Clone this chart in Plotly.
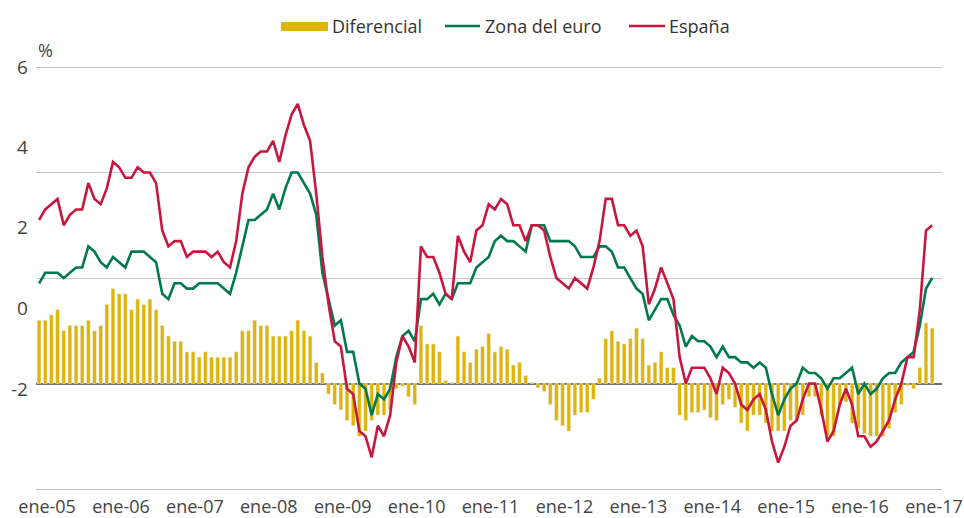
import plotly.graph_objects as go

# IAPC, tasa interanual (%), ene-05 a feb-17
espana = [
    3.1, 3.3, 3.4, 3.5, 3.0, 3.2, 3.3, 3.3, 3.8, 3.5, 3.4, 3.7,
    4.2, 4.1, 3.9, 3.9, 4.1, 4.0, 4.0, 3.8, 2.9, 2.6, 2.7, 2.7,
    2.4, 2.5, 2.5, 2.5, 2.4, 2.5, 2.3, 2.2, 2.7, 3.6, 4.1, 4.3,
    4.4, 4.4, 4.6, 4.2, 4.7, 5.1, 5.3, 4.9, 4.6, 3.6, 2.4, 1.5,
    0.8, 0.7, -0.1, -0.2, -0.9, -1.0, -1.4, -0.8, -1.0, -0.6, 0.4, 0.9,
    0.7, 0.4, 2.6, 2.4, 2.4, 2.1, 1.7, 1.6, 2.8, 2.5, 2.3, 2.9,
    3.0, 3.4, 3.3, 3.5, 3.4, 3.0, 3.0, 2.7, 3.0, 3.0, 2.9, 2.4,
    2.0, 1.9, 1.8, 2.0, 1.9, 1.8, 2.2, 2.7, 3.5, 3.5, 3.0, 3.0,
    2.8, 2.9, 2.6, 1.5, 1.8, 2.2, 1.9, 1.6, 0.5, 0.0, 0.3, 0.3,
    0.3, 0.1, -0.2, 0.3, 0.2, 0.0, -0.4, -0.5, -0.3, -0.2, -0.5, -1.1,
    -1.5, -1.2, -0.8, -0.7, -0.3, 0.0, 0.0, -0.5, -1.1, -0.9, -0.4, -0.1,
    -0.4, -1.0, -1.0, -1.2, -1.1, -0.9, -0.7, -0.3, 0.0, 0.5, 0.5, 1.4,
    2.9, 3.0]

zona_euro = [
    1.9, 2.1, 2.1, 2.1, 2.0, 2.1, 2.2, 2.2, 2.6, 2.5, 2.3, 2.2,
    2.4, 2.3, 2.2, 2.5, 2.5, 2.5, 2.4, 2.3, 1.7, 1.6, 1.9, 1.9,
    1.8, 1.8, 1.9, 1.9, 1.9, 1.9, 1.8, 1.7, 2.1, 2.6, 3.1, 3.1,
    3.2, 3.3, 3.6, 3.3, 3.7, 4.0, 4.0, 3.8, 3.6, 3.2, 2.1, 1.6,
    1.1, 1.2, 0.6, 0.6, 0.0, -0.1, -0.6, -0.2, -0.3, -0.1, 0.5, 0.9,
    1.0, 0.8, 1.6, 1.6, 1.7, 1.5, 1.7, 1.6, 1.9, 1.9, 1.9, 2.2,
    2.3, 2.4, 2.7, 2.8, 2.7, 2.7, 2.6, 2.5, 3.0, 3.0, 3.0, 2.7,
    2.7, 2.7, 2.7, 2.6, 2.4, 2.4, 2.4, 2.6, 2.6, 2.5, 2.2, 2.2,
    2.0, 1.8, 1.7, 1.2, 1.4, 1.6, 1.6, 1.3, 1.1, 0.7, 0.9, 0.8,
    0.8, 0.7, 0.5, 0.7, 0.5, 0.5, 0.4, 0.4, 0.3, 0.4, 0.3, -0.2,
    -0.6, -0.3, -0.1, 0.0, 0.3, 0.2, 0.2, 0.1, -0.1, 0.1, 0.1, 0.2,
    0.3, -0.2, 0.0, -0.2, -0.1, 0.1, 0.2, 0.2, 0.4, 0.5, 0.6, 1.1,
    1.8, 2.0]

diferencial = [
    1.2, 1.2, 1.3, 1.4, 1.0, 1.1, 1.1, 1.1, 1.2, 1.0, 1.1, 1.5,
    1.8, 1.7, 1.7, 1.4, 1.6, 1.5, 1.6, 1.4, 1.1, 0.9, 0.8, 0.8,
    0.6, 0.6, 0.5, 0.6, 0.5, 0.5, 0.5, 0.5, 0.6, 1.0, 1.0, 1.2,
    1.1, 1.1, 0.9, 0.9, 0.9, 1.0, 1.2, 1.0, 0.9, 0.4, 0.2, -0.2,
    -0.4, -0.5, -0.7, -0.8, -1.0, -0.9, -0.7, -0.6, -0.6, -0.5, -0.1, -0.05,
    -0.25, -0.4, 1.1, 0.75, 0.75, 0.6, 0.06, 0.02, 0.9, 0.6, 0.4, 0.65,
    0.7, 0.95, 0.6, 0.7, 0.65, 0.35, 0.4, 0.15, 0.02, -0.08, -0.15, -0.4,
    -0.7, -0.8, -0.9, -0.6, -0.55, -0.55, -0.3, 0.1, 0.85, 1.0, 0.8, 0.75,
    0.85, 1.05, 0.85, 0.35, 0.4, 0.6, 0.3, 0.3, -0.6, -0.7, -0.55, -0.55,
    -0.5, -0.65, -0.7, -0.4, -0.3, -0.45, -0.75, -0.9, -0.6, -0.6, -0.75, -0.9,
    -0.9, -0.9, -0.7, -0.7, -0.6, -0.25, -0.25, -0.6, -1.0, -1.0, -0.4, -0.35,
    -0.75, -0.85, -0.95, -1.0, -1.0, -1.0, -0.85, -0.55, -0.4, -0.04, -0.1, 0.3,
    1.15, 1.05]

años = ['05', '06', '07', '08', '09', '10', '11', '12', '13', '14', '15', '16', '17']
tick_text = ['ene-' + a for a in años]
y_labels = ['6', '4', '2', '0', '-2']

meses = list(range(len(espana)))
AMARILLO = '#E0B400'
VERDE = '#007A4C'
ROJO = '#C8173F'
FONT = 'Open Sans'
TXT = '#444444'

fig = go.Figure()
fig.add_trace(go.Bar(x=meses, y=diferencial, name='Diferencial',
                     marker_color=AMARILLO, width=0.6))
fig.add_trace(go.Scatter(x=meses, y=zona_euro, name='Zona del euro', mode='lines',
                         line=dict(color=VERDE, width=2.6)))
fig.add_trace(go.Scatter(x=meses, y=espana, name='España', mode='lines',
                         line=dict(color=ROJO, width=2.6)))

# y labels as drawn in the original (spaced independently from the grid)
label_pos = [6.0, 4.48, 2.96, 1.44, -0.1]
annotations = []
for txt, yv in zip(y_labels, label_pos):
    annotations.append(dict(x=0, xref='paper', y=yv, yref='y', text=txt, showarrow=False,
                            xanchor='right', yanchor='middle', xshift=-6,
                            font=dict(family=FONT, size=19, color=TXT)))
annotations.append(dict(x=0, xref='paper', y=1.038, yref='paper', text='%', showarrow=False,
                        xanchor='left', yanchor='middle',
                        font=dict(family=FONT, size=18, color=TXT)))

# custom legend
leg_y = 1.0946
shapes = [
    dict(type='rect', xref='paper', yref='paper', x0=0.2704, x1=0.3223, y0=1.0827, y1=1.104,
         fillcolor=AMARILLO, line=dict(width=0)),
    dict(type='line', xref='paper', yref='paper', x0=0.4514, x1=0.4901, y0=leg_y, y1=leg_y,
         line=dict(color=VERDE, width=2.6)),
    dict(type='line', xref='paper', yref='paper', x0=0.6545, x1=0.6943, y0=leg_y, y1=leg_y,
         line=dict(color=ROJO, width=2.6)),
]
for txt, xv in [('Diferencial', 0.3245), ('Zona del euro', 0.4935), ('España', 0.6965)]:
    annotations.append(dict(x=xv, xref='paper', y=leg_y, yref='paper', text=txt, showarrow=False,
                            xanchor='left', yanchor='middle',
                            font=dict(family=FONT, size=18, color='#333333')))

fig.update_layout(
    width=964, height=518,
    margin=dict(l=36, r=22, t=66, b=29),
    plot_bgcolor='white', paper_bgcolor='white',
    showlegend=False,
    bargap=0.4,
    annotations=annotations,
    shapes=shapes,
    xaxis=dict(
        range=[-0.5, 146.6],
        tickvals=[12 * k + 1.3 for k in range(len(tick_text))],
        ticktext=tick_text,
        showgrid=False, zeroline=False, automargin=False,
        showline=True, linecolor='#BDBDBD', linewidth=1.2,
        ticks='', ticklabelstandoff=1, ticklabeloverflow='allow',
        tickfont=dict(family=FONT, size=18, color=TXT),
    ),
    yaxis=dict(
        range=[-2, 6.02],
        tickvals=[-2, 0, 2, 4, 6],
        showticklabels=False, automargin=False,
        showgrid=True, gridcolor='#C8C8C8', gridwidth=1.2,
        zeroline=True, zerolinecolor='#707070', zerolinewidth=1.6,
    ),
)

# the page's default body margin would shift the 964x518 figure
fig.write_html("out.html", config={'displayModeBar': False},
               post_script="document.body.style.margin='0';")
